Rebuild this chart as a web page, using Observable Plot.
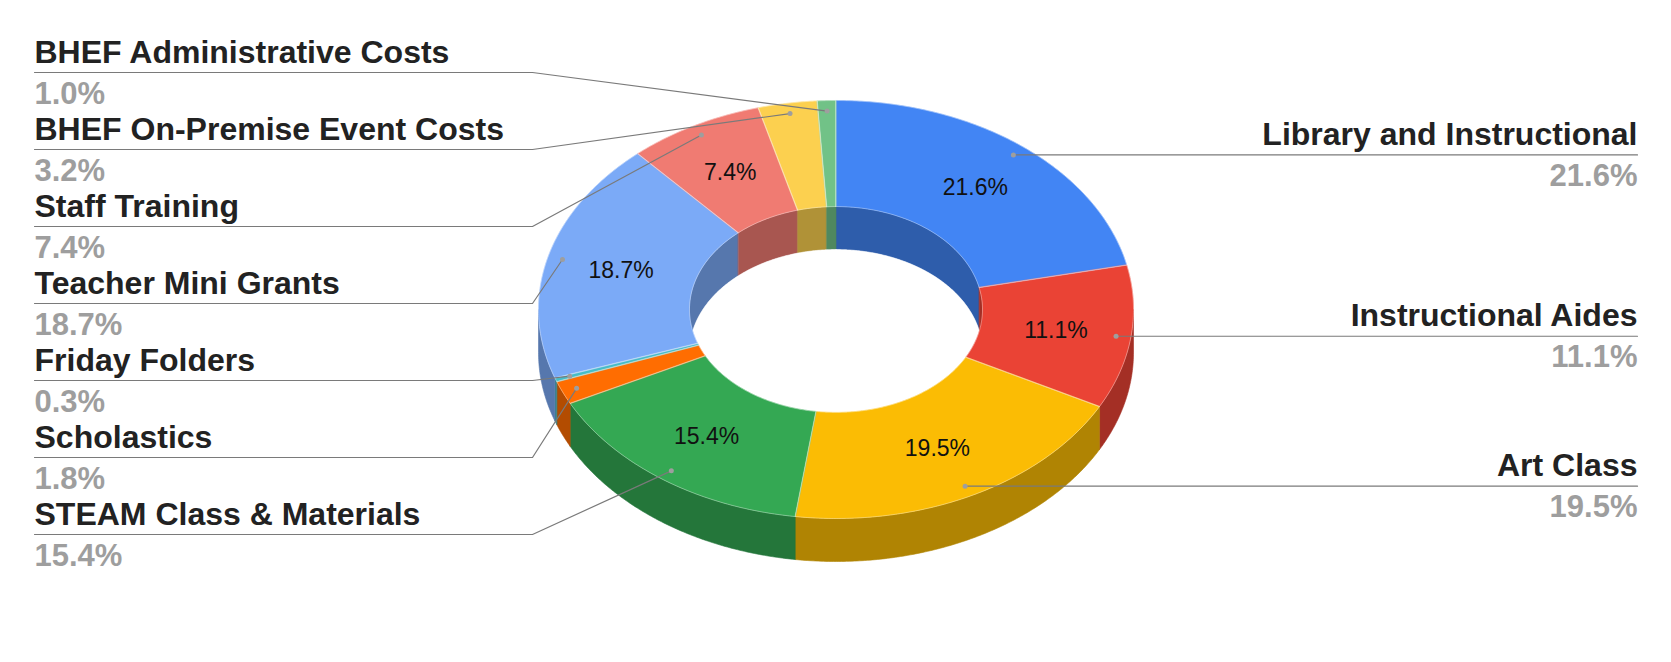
<!DOCTYPE html>
<html><head><meta charset="utf-8">
<script src="https://cdn.jsdelivr.net/npm/d3@7"></script>
<script src="https://cdn.jsdelivr.net/npm/@observablehq/plot@0.6"></script>
<style>body{margin:0;background:#fff}</style>
</head><body><div id="chart"></div>
<script>
// ---- data ----
const categories = ["Library and Instructional", "Instructional Aides", "Art Class", "STEAM Class & Materials", "Scholastics", "Friday Folders", "Teacher Mini Grants", "Staff Training", "BHEF On-Premise Event Costs", "BHEF Administrative Costs"];
const values = [21.6, 11.1, 19.5, 15.4, 1.8, 0.3, 18.7, 7.4, 3.2, 1.0];
const colors = ["#4285f4", "#ea4335", "#fbbc04", "#34a853", "#ff6d01", "#46bdc6", "#7baaf7", "#f07b72", "#fcd04f", "#71c287"];

// ---- layout ----
const W = 1671, H = 662;
const cx = 835.5, cy = 309, rx = 297.5, ry = 209, inner = 0.4925, depth = 43;
const dotR = 0.95, leftX = 34, elbowX = 532, rightX = 1637, leftTop = 72, leftStep = 77;
const font = "Arial, 'Liberation Sans', Helvetica, sans-serif";

const darken = c => { const k = d3.rgb(c); return d3.rgb(k.r * 0.7, k.g * 0.7, k.b * 0.7).formatHex(); };
const rad = d => d * Math.PI / 180;
const pt = (a, r, dy = 0) => [cx + r * rx * Math.sin(rad(a)), cy - r * ry * Math.cos(rad(a)) + dy];
function arc(a0, a1, r, dy = 0) {
  const n = Math.max(2, Math.ceil(Math.abs(a1 - a0) / 0.5) + 1);
  return d3.range(n).map(k => pt(a0 + (a1 - a0) * k / (n - 1), r, dy));
}
function clip(a0, a1, lo, hi) {
  const out = [];
  for (const s of [-360, 0, 360]) { const b0 = Math.max(a0 + s, lo), b1 = Math.min(a1 + s, hi); if (b1 > b0) out.push([b0, b1]); }
  return out;
}

const total = d3.sum(values);
let acc = 0;
const slices = values.map((v, i) => {
  const a0 = acc / total * 360; acc += v; const a1 = acc / total * 360;
  return { i, name: categories[i], pct: v / total * 100, a0, a1, mid: (a0 + a1) / 2, color: colors[i], dark: darken(colors[i]) };
});

let pid = 0;
function poly(list, points, fc, sc) { const id = pid++; for (const [x, y] of points) list.push({ id, x, y, fc, sc }); }

const sideWalls = [], innerWalls = [], hole = [], tops = [];
for (const s of slices) {
  for (const [b0, b1] of clip(s.a0, s.a1, 90, 270))
    poly(sideWalls, [...arc(b0, b1, 1), ...arc(b1, b0, 1, depth)], s.dark, s.dark);
  for (const [b0, b1] of clip(s.a0, s.a1, -90, 90))
    poly(innerWalls, [...arc(b0, b1, inner), ...arc(b1, b0, inner, depth)], s.dark, s.dark);
  poly(tops, [...arc(s.a0, s.a1, 1), ...arc(s.a1, s.a0, inner)], s.color, s.color);
}
poly(hole, arc(0, 360, inner, depth), "#ffffff", "#ffffff");

// slice percentage labels
const innerLabels = slices.filter(s => s.pct >= 5).map(s => {
  const [x, y] = pt(s.mid, (1 + inner) / 2);
  return { x, y, text: s.pct.toFixed(1) + "%" };
});

// outside labels with leader lines
const dots = slices.map(s => { const [x, y] = pt(s.mid, dotR); return { ...s, dx: x, dy: y }; });
const right = dots.filter(d => d.mid < 180).map(d => ({ ...d, ly: d.dy, lx: rightX }));
const left = dots.filter(d => d.mid >= 180).sort((a, b) => a.dy - b.dy).map((d, k) => ({ ...d, ly: leftTop + k * leftStep, lx: leftX }));
const leaders = [];
for (const d of right) { leaders.push({ id: d.i, x: d.dx, y: d.dy }, { id: d.i, x: rightX, y: d.dy }); }
for (const d of left) { leaders.push({ id: d.i, x: d.dx, y: d.dy }, { id: d.i, x: elbowX, y: d.ly }, { id: d.i, x: leftX, y: d.ly }); }

const polyMark = (data) => Plot.line(data, { x: "x", y: "y", z: "id", fill: "fc", stroke: "sc", strokeWidth: 0.6, curve: "linear-closed" });
const nameMark = (data, anchor) => Plot.text(data, { x: "lx", y: d => d.ly - 10, text: "name", textAnchor: anchor, fontSize: 32, fontWeight: "bold", fill: "#222", lineAnchor: "bottom", fontFamily: font });
const pctMark = (data, anchor) => Plot.text(data, { x: "lx", y: d => d.ly + 31, text: d => d.pct.toFixed(1) + "%", textAnchor: anchor, fontSize: 31, fontWeight: "bold", fill: "#9e9e9e", lineAnchor: "bottom", fontFamily: font });

const chart = Plot.plot({
  width: W, height: H, margin: 0,
  x: { domain: [0, W], range: [0, W], axis: null },
  y: { domain: [0, H], range: [0, H], axis: null },
  color: { type: "identity" },
  style: { fontFamily: font, background: "#fff" },
  marks: [
    polyMark(sideWalls),
    polyMark(innerWalls),
    polyMark(hole),
    polyMark(tops),
    Plot.line(tops, { x: "x", y: "y", z: "id", stroke: "#ffffff", strokeOpacity: 0.35, strokeWidth: 1, curve: "linear-closed" }),
    Plot.text(innerLabels, { x: "x", y: "y", text: "text", fontSize: 23, fill: "#111", lineAnchor: "middle", fontFamily: font }),
    Plot.line(leaders, { x: "x", y: "y", z: "id", stroke: "#7a7a7a", strokeWidth: 1.2 }),
    Plot.dot(dots, { x: "dx", y: "dy", r: 2.5, fill: "#9e9e9e", stroke: null }),
    nameMark(right, "end"), nameMark(left, "start"),
    pctMark(right, "end"), pctMark(left, "start")
  ]
});
document.getElementById("chart").appendChild(chart);
</script>
</body></html>
